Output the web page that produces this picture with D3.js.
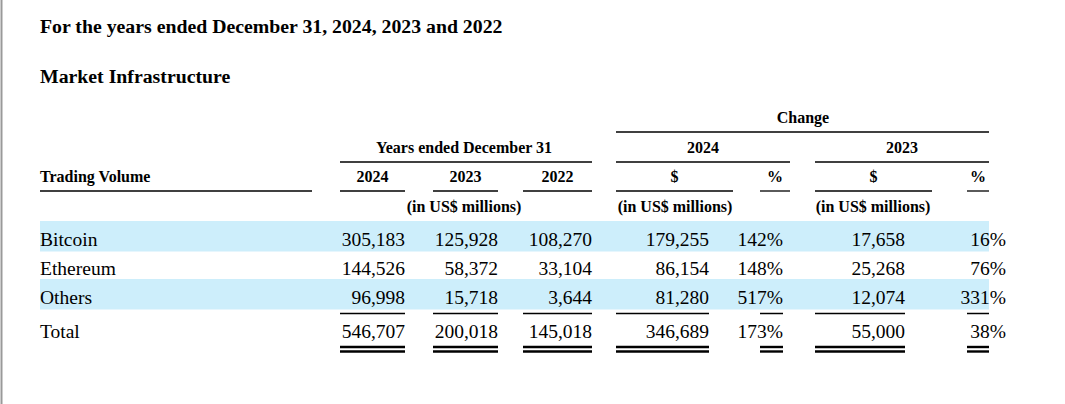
<!DOCTYPE html>
<html><head><meta charset="utf-8">
<script src="https://cdn.jsdelivr.net/npm/d3@7"></script>
<style>body{margin:0;background:#fff}svg{display:block}text{font-family:"Liberation Serif","Times New Roman",serif;fill:#000}</style>
</head><body><svg id="c" width="1065" height="404"></svg>
<script>
const categories = ["Bitcoin","Ethereum","Others"];
const v2024 = [305183,144526,96998];
const v2023 = [125928,58372,15718];
const v2022 = [108270,33104,3644];
const chg2024 = [179255,86154,81280];
const pct2024 = [142,148,517];
const chg2023 = [17658,25268,12074];
const pct2023 = [16,76,331];
const totals = [546707,200018,145018,346689,173,55000,38];
const colLabels = ["2024","2023","2022","$","%","$","%"];

const svg = d3.select("#c");
svg.append("line").attr("x1",1.5).attr("x2",1.5).attr("y1",0).attr("y2",404).attr("stroke","#999").attr("stroke-width",2);
const fmt = d3.format(",");
const cols = [
 {r:405,l:340},{r:498,l:433},{r:592,l:523},
 {r:709,l:616,hr:733},{r:783,l:760,hr:790},{r:905,l:815,hr:932},{r:1006,l:967,hr:989,ur:989}
];
const y = d3.scalePoint().domain(categories).range([245,303]);
const yTot = 338;
function T(x,yy,t,o={}){return svg.append("text").attr("x",x).attr("y",yy).text(t)
 .attr("font-size",o.s||16).attr("font-weight",o.b?"bold":null).attr("text-anchor",o.a||"start");}
function L(x1,x2,yy,w=1.3){svg.append("line").attr("x1",x1).attr("x2",x2).attr("y1",yy).attr("y2",yy).attr("stroke","#000").attr("stroke-width",w);}

T(40,33,"For the years ended December 31, 2024, 2023 and 2022",{s:19.8,b:1});
T(40,83,"Market Infrastructure",{s:19.8,b:1});
T(803,123,"Change",{b:1,a:"middle"}); L(616,989,132);
T(464,153,"Years ended December 31",{b:1,a:"middle"}); L(340,592,162);
T(703,153,"2024",{b:1,a:"middle"}); L(616,790,162);
T(902,153,"2023",{b:1,a:"middle"}); L(815,989,162);
T(40,182,"Trading Volume",{b:1}); L(40,312,191);
colLabels.forEach((c,i)=>{const co=cols[i];const r=co.hr||co.r;
 T((co.l+r)/2,182,c,{b:1,a:"middle"}); L(co.l,r,191);});
T(464,212,"(in US$ millions)",{b:1,a:"middle"});
T(675,212,"(in US$ millions)",{b:1,a:"middle"});
T(873,212,"(in US$ millions)",{b:1,a:"middle"});

const step = 29.5;
categories.forEach((c,i)=>{
 if(i!==1) svg.append("rect").attr("x",40).attr("width",949).attr("y",y(c)-24).attr("height",step+1).attr("fill","#cdeefb");
});
categories.forEach((c,i)=>{
 const yy=y(c)+0.5;
 T(40,yy,c,{s:19.5});
 const vals=[fmt(v2024[i]),fmt(v2023[i]),fmt(v2022[i]),fmt(chg2024[i]),pct2024[i]+"%",fmt(chg2023[i]),pct2023[i]+"%"];
 vals.forEach((v,j)=>T(cols[j].r,yy,v,{s:19.5,a:"end"}));
});
T(40,yTot,"Total",{s:19.5});
totals.forEach((v,j)=>{
 const co=cols[j]; const r=co.ur||co.r;
 T(co.r,yTot,j===4||j===6?v+"%":fmt(v),{s:19.5,a:"end"});
 L(co.l,r,313.5,1.5); L(co.l,r,347,2.4); L(co.l,r,351.5,2.4);
});
</script></body></html>
